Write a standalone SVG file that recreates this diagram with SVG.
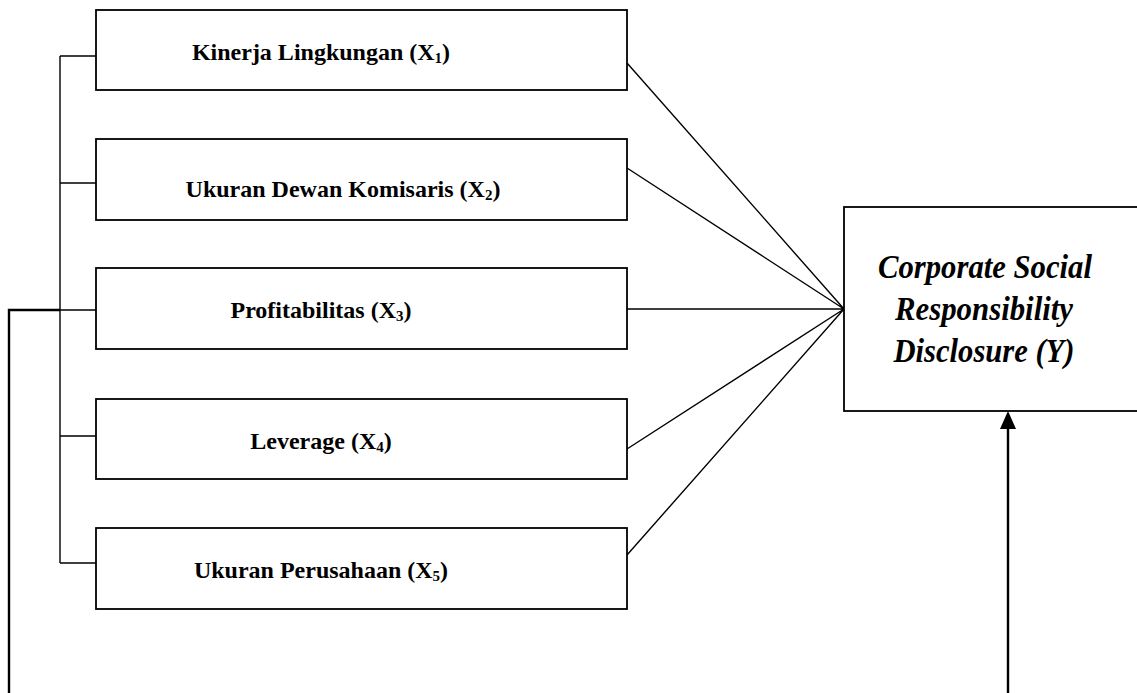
<svg xmlns="http://www.w3.org/2000/svg" width="1137" height="693" viewBox="0 0 1137 693">
<style>
.box{fill:#fff;stroke:#000;stroke-width:1.8}
.ln{stroke:#000;stroke-width:1.4;fill:none}
.thick{stroke:#000;stroke-width:2.4;fill:none}
.lbl{font-family:"Liberation Serif","Times New Roman",serif;font-weight:bold;font-size:24px;fill:#000;text-anchor:middle}
.y{font-family:"Liberation Serif","Times New Roman",serif;font-weight:bold;font-style:italic;font-size:33px;fill:#000;text-anchor:middle}
.sub{font-size:15px}
</style>
<rect width="1137" height="693" fill="#fff"/>
<g id="connectors">
<path class="ln" d="M60,56 V563 M60,56 H96 M60,183 H96 M60,310 H96 M60,436 H96 M60,563 H96"/>
<path class="thick" d="M9,693 V310 H60"/>
<path class="ln" d="M627,63 L844,309 M627,168 L844,309 M627,309 L844,309 M627,449 L844,309 M627,555 L844,309"/>
<path class="thick" d="M1008,693 V428"/>
<polygon points="1008,411 1000,429 1016,429" fill="#000"/>
</g>
<g id="x1">
<rect class="box" x="96" y="10" width="531" height="80"/>
<text class="lbl" x="321" y="60">Kinerja Lingkungan (X<tspan class="sub" dy="3">1</tspan><tspan dy="-3">)</tspan></text>
</g>
<g id="x2">
<rect class="box" x="96" y="139" width="531" height="81"/>
<text class="lbl" x="343" y="197">Ukuran Dewan Komisaris (X<tspan class="sub" dy="3">2</tspan><tspan dy="-3">)</tspan></text>
</g>
<g id="x3">
<rect class="box" x="96" y="268" width="531" height="81"/>
<text class="lbl" x="321" y="318">Profitabilitas (X<tspan class="sub" dy="3">3</tspan><tspan dy="-3">)</tspan></text>
</g>
<g id="x4">
<rect class="box" x="96" y="399" width="531" height="80"/>
<text class="lbl" x="321" y="449">Leverage (X<tspan class="sub" dy="3">4</tspan><tspan dy="-3">)</tspan></text>
</g>
<g id="x5">
<rect class="box" x="96" y="528" width="531" height="81"/>
<text class="lbl" x="321" y="578">Ukuran Perusahaan (X<tspan class="sub" dy="3">5</tspan><tspan dy="-3">)</tspan></text>
</g>
<g id="y">
<rect class="box" x="844" y="207" width="310" height="204"/>
<text class="y" x="985" y="278" textLength="214" lengthAdjust="spacingAndGlyphs">Corporate Social</text>
<text class="y" x="984" y="320" textLength="178" lengthAdjust="spacingAndGlyphs">Responsibility</text>
<text class="y" x="984" y="362" textLength="181" lengthAdjust="spacingAndGlyphs">Disclosure (Y)</text>
</g>
</svg>
